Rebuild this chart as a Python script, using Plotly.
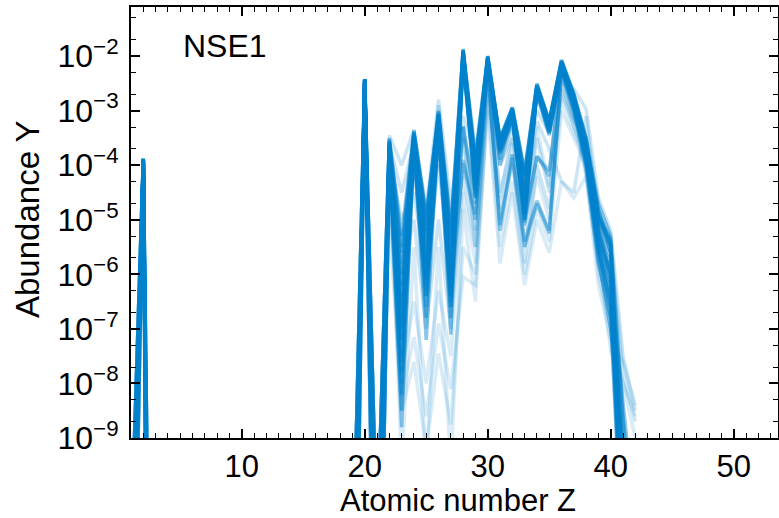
import plotly.graph_objects as go

# Atomic numbers shown (Z=4..18 are zero / far below the axis)
Z_HEAD = [1, 2, 3, 19, 20, 21]
Z_BODY = list(range(22, 43))

# log10 abundance for the light-element head (Z = 1, 2, 3, 19, 20, 21)
head_1 = [-11.0, -3.88, -22.0, -12.0, -2.42, -11.0]
head_2 = [-12.5, -3.9, -26.0, -13.5, -2.43, -12.5]
head_3 = [-14.0, -3.9, -30.0, -15.0, -2.44, -14.0]
head_4 = [-16.0, -3.92, -34.0, -17.0, -2.45, -16.0]
head_light = [-13.5, -3.95, -30.0, -15.0, -2.5, -13.5]

# log10 abundance for Z = 22..42, one list per trajectory
# dense (main) family
A1 = [-3.55, -5.8, -3.38, -4.9, -3.05, -5.4, -1.87, -4.1, -2.0, -3.52, -2.95, -4.15, -2.52, -3.2, -2.08, -2.7, -3.55, -4.9, -5.35, -12, -16]
A2 = [-3.6, -6.2, -3.42, -5.1, -3.1, -5.6, -1.9, -4.3, -2.02, -3.6, -2.98, -4.3, -2.55, -3.25, -2.1, -2.75, -3.65, -5.0, -5.5, -12.5, -16]
A3 = [-3.65, -6.6, -3.45, -5.3, -3.12, -5.8, -1.92, -4.45, -2.05, -3.65, -3.0, -4.5, -2.58, -3.3, -2.12, -2.8, -3.7, -5.1, -5.7, -13, -16]
A4 = [-3.7, -7.0, -3.5, -5.6, -3.15, -6.1, -1.95, -3.9, -2.03, -3.58, -3.02, -4.7, -2.6, -3.22, -2.15, -2.85, -3.8, -5.2, -6.0, -12, -16]
A5 = [-3.75, -7.5, -3.55, -5.9, -3.2, -6.4, -1.98, -4.2, -2.07, -3.7, -3.05, -4.9, -2.62, -3.35, -2.18, -2.9, -3.9, -5.4, -6.3, -12.5, -16]
A6 = [-3.5, -5.5, -3.4, -5.0, -3.0, -5.2, -1.9, -4.0, -2.0, -3.55, -2.96, -4.2, -2.53, -3.2, -2.1, -2.72, -3.5, -4.95, -5.4, -11.5, -16]
A7 = [-3.8, -8.0, -3.6, -6.3, -3.25, -6.6, -2.0, -4.5, -2.1, -3.75, -3.1, -5.0, -2.65, -3.4, -2.2, -2.95, -4.0, -5.6, -6.5, -12, -16]
A8 = [-3.9, -8.5, -3.7, -6.6, -3.35, -6.4, -2.05, -4.4, -2.12, -3.8, -3.15, -4.8, -2.7, -3.45, -2.25, -3.0, -4.1, -5.8, -6.8, -11, -16]
A9 = [-3.58, -6.0, -3.44, -5.2, -3.08, -5.5, -2.1, -4.0, -2.15, -3.62, -3.02, -4.4, -2.6, -3.28, -2.16, -2.78, -3.6, -4.95, -5.45, -9.8, -13]
A10 = [-3.62, -7.2, -3.48, -5.5, -3.14, -5.9, -2.15, -4.3, -2.18, -3.68, -3.08, -4.6, -2.68, -3.32, -2.22, -2.85, -3.75, -5.3, -6.1, -10.5, -13]
A11 = [-3.68, -6.4, -3.52, -5.8, -3.18, -6.2, -1.95, -4.6, -2.08, -3.72, -3.1, -4.9, -2.58, -3.38, -2.14, -2.82, -3.85, -5.5, -6.6, -10, -13]
A12 = [-3.72, -7.8, -3.58, -6.1, -3.22, -6.3, -2.02, -4.15, -2.1, -3.6, -3.04, -4.55, -2.64, -3.3, -2.2, -2.9, -3.95, -5.7, -7.0, -9.6, -12]
A13 = [-3.56, -5.6, -3.4, -5.4, -3.06, -5.1, -1.88, -3.8, -2.0, -3.5, -2.94, -4.1, -2.5, -3.18, -2.07, -2.68, -3.5, -4.7, -5.3, -8.6, -11]
A14 = [-3.64, -6.9, -3.46, -6.0, -3.1, -6.0, -1.93, -4.05, -2.04, -3.56, -2.99, -4.35, -2.56, -3.24, -2.1, -2.76, -3.62, -4.85, -5.5, -8.9, -12]
A15 = [-3.7, -7.6, -3.5, -6.4, -3.16, -6.5, -1.97, -4.25, -2.06, -3.64, -3.03, -4.65, -2.6, -3.3, -2.14, -2.83, -3.72, -5.15, -5.9, -9.2, -13]
A16 = [-3.78, -8.2, -3.56, -6.8, -3.24, -6.8, -2.03, -4.35, -2.09, -3.7, -3.07, -4.85, -2.63, -3.36, -2.17, -2.88, -3.82, -5.35, -6.2, -8.4, -10.5]
A17 = [-3.84, -8.8, -3.62, -7.2, -3.3, -7.1, -2.08, -4.55, -2.13, -3.77, -3.12, -5.05, -2.67, -3.42, -2.21, -2.93, -3.92, -5.5, -6.6, -9.0, -12]
A18 = [-3.52, -5.3, -3.36, -4.95, -3.02, -5.3, -1.89, -3.95, -2.01, -3.53, -2.95, -4.18, -2.53, -3.21, -2.09, -2.71, -3.58, -4.8, -5.6, -10.8, -14]
# secondary families
B1 = [-3.9, -6.5, -3.6, -5.8, -3.3, -6.0, -3.28, -4.6, -2.1, -3.9, -3.1, -5.0, -3.83, -4.2, -2.2, -2.85, -3.75, -5.3, -6.0, -12, -16]
B2 = [-4.0, -7.2, -3.7, -6.2, -3.4, -6.3, -3.3, -4.7, -2.15, -4.0, -3.2, -5.1, -3.85, -4.1, -2.25, -2.9, -3.8, -5.5, -6.4, -12, -16]
C1 = [-4.0, -6.8, -3.8, -6.0, -3.5, -6.2, -3.96, -5.0, -2.2, -5.2, -3.86, -5.5, -4.7, -5.25, -2.3, -3.0, -3.6, -5.0, -5.6, -12, -16]
C2 = [-4.1, -7.0, -3.9, -6.4, -3.6, -6.6, -3.9, -4.9, -2.25, -5.1, -3.8, -5.4, -4.65, -5.2, -2.35, -3.1, -3.7, -5.2, -6.0, -12, -16]
# faint outlier trajectories
L1 = [-3.45, -4.0, -3.35, -4.8, -2.8, -4.7, -3.1, -3.8, -2.3, -3.6, -3.3, -4.2, -3.0, -3.4, -2.4, -2.6, -2.97, -4.6, -5.2, -7.5, -8.5]
L2 = [-3.6, -4.5, -3.6, -5.2, -2.9, -5.0, -3.3, -5.5, -2.4, -4.0, -3.5, -4.6, -3.2, -3.7, -4.3, -4.5, -3.1, -5.0, -5.4, -7.8, -8.7]
L3 = [-4.5, -8.25, -7.15, -8.6, -6.9, -8.1, -6.05, -6.2, -3.0, -5.8, -4.5, -6.2, -5.0, -5.6, -4.3, -4.6, -4.2, -5.8, -6.6, -9.5, -12]
L4 = [-5.0, -8.5, -7.6, -9.2, -7.45, -8.75, -5.5, -6.0, -2.8, -5.5, -4.3, -6.0, -4.8, -5.4, -3.0, -3.5, -4.0, -6.0, -7.0, -8.0, -9.0]
L5 = [-4.2, -7.8, -6.5, -8.0, -6.3, -7.5, -4.5, -5.8, -2.6, -5.0, -4.0, -5.5, -4.2, -5.0, -2.8, -3.4, -3.9, -5.6, -7.4, -8.0, -8.6]
L6 = [-3.8, -5.0, -4.5, -6.0, -4.0, -6.0, -3.5, -5.2, -2.3, -4.5, -3.6, -5.0, -3.5, -4.5, -2.5, -3.2, -3.5, -5.2, -6.0, -12, -16]
L7 = [-4.0, -6.0, -5.0, -7.0, -5.0, -7.0, -4.2, -5.5, -2.5, -4.8, -3.8, -5.8, -4.0, -4.8, -2.6, -3.3, -3.8, -5.5, -6.8, -12, -16]
L8 = [-3.7, -9.5, -5.5, -9.5, -5.5, -9.5, -4.8, -6.5, -2.7, -4.6, -3.4, -5.2, -3.3, -4.4, -2.7, -3.2, -4.2, -6.2, -7.2, -7.6, -8.4]

X_TICKS = [10, 20, 30, 40, 50]
Y_TICKS = [1e-9, 1e-8, 1e-7, 1e-6, 1e-5, 1e-4, 1e-3, 1e-2]
Y_TICKTEXT = ["10<sup>−9</sup>", "10<sup>−8</sup>", "10<sup>−7</sup>", "10<sup>−6</sup>",
              "10<sup>−5</sup>", "10<sup>−4</sup>", "10<sup>−3</sup>", "10<sup>−2</sup>"]

BLUE = "rgb(0,130,205)"
FONT = "Liberation Sans, Arial, sans-serif"

groups = [
    (head_1, [A1, A6, A13, A18, A9], 0.45),
    (head_2, [A2, A3, A14, A10, A11], 0.45),
    (head_3, [A4, A5, A15, A12], 0.45),
    (head_4, [A7, A8, A16, A17], 0.45),
    (head_2, [B1, B2, C1, C2], 0.4),
    (head_light, [L1, L2, L6, L7], 0.2),
    (head_light, [L3, L4, L5, L8], 0.15),
]

fig = go.Figure()
zs = Z_HEAD + Z_BODY
for head, series_list, alpha in groups:
    for s in series_list:
        ys = [10 ** v for v in head + s]
        fig.add_trace(go.Scatter(
            x=zs, y=ys, mode="lines",
            line=dict(color=BLUE, width=3.5),
            opacity=alpha, showlegend=False, hoverinfo="skip",
        ))

axis_common = dict(
    showline=True, linecolor="black", linewidth=2, mirror="allticks",
    ticks="inside", ticklen=9, tickwidth=1.5, tickcolor="black",
    showgrid=False, zeroline=False, automargin=False,
)

fig.update_layout(
    width=779, height=518,
    margin=dict(l=131, r=1, t=7, b=80),
    plot_bgcolor="white", paper_bgcolor="white",
    xaxis=dict(
        range=[1, 53.6], tickvals=X_TICKS,
        minor=dict(ticks="inside", ticklen=5, dtick=1, tickcolor="black", tickwidth=1),
        ticklabelstandoff=0,
        tickfont=dict(family=FONT, size=31, color="black"),
        **axis_common,
    ),
    yaxis=dict(
        type="log", range=[-9, -1.1], tickvals=Y_TICKS, ticktext=Y_TICKTEXT,
        minor=dict(ticks="inside", ticklen=5, tickcolor="black", tickwidth=1),
        ticklabelstandoff=4,
        tickfont=dict(family=FONT, size=32, color="black"),
        **axis_common,
    ),
    annotations=[
        dict(text="NSE1", xref="paper", yref="paper", x=(181 - 131) / 647, y=1 - (46 - 7) / 431,
             xanchor="left", yanchor="middle", showarrow=False,
             font=dict(family=FONT, size=32, color="black")),
        dict(text="Atomic number Z", xref="paper", yref="paper", x=(458 - 131) / 647, y=-(500 - 438) / 431,
             xanchor="center", yanchor="middle", showarrow=False,
             font=dict(family=FONT, size=31, color="black")),
        dict(text="Abundance Y", xref="paper", yref="paper", x=(27 - 131) / 647, y=1 - (219 - 7) / 431,
             xanchor="center", yanchor="middle", showarrow=False, textangle=-90,
             font=dict(family=FONT, size=33, color="black")),
    ],
)

fig.write_html("out.html", config={"displayModeBar": False},
               post_script="document.body.style.margin='0';")
